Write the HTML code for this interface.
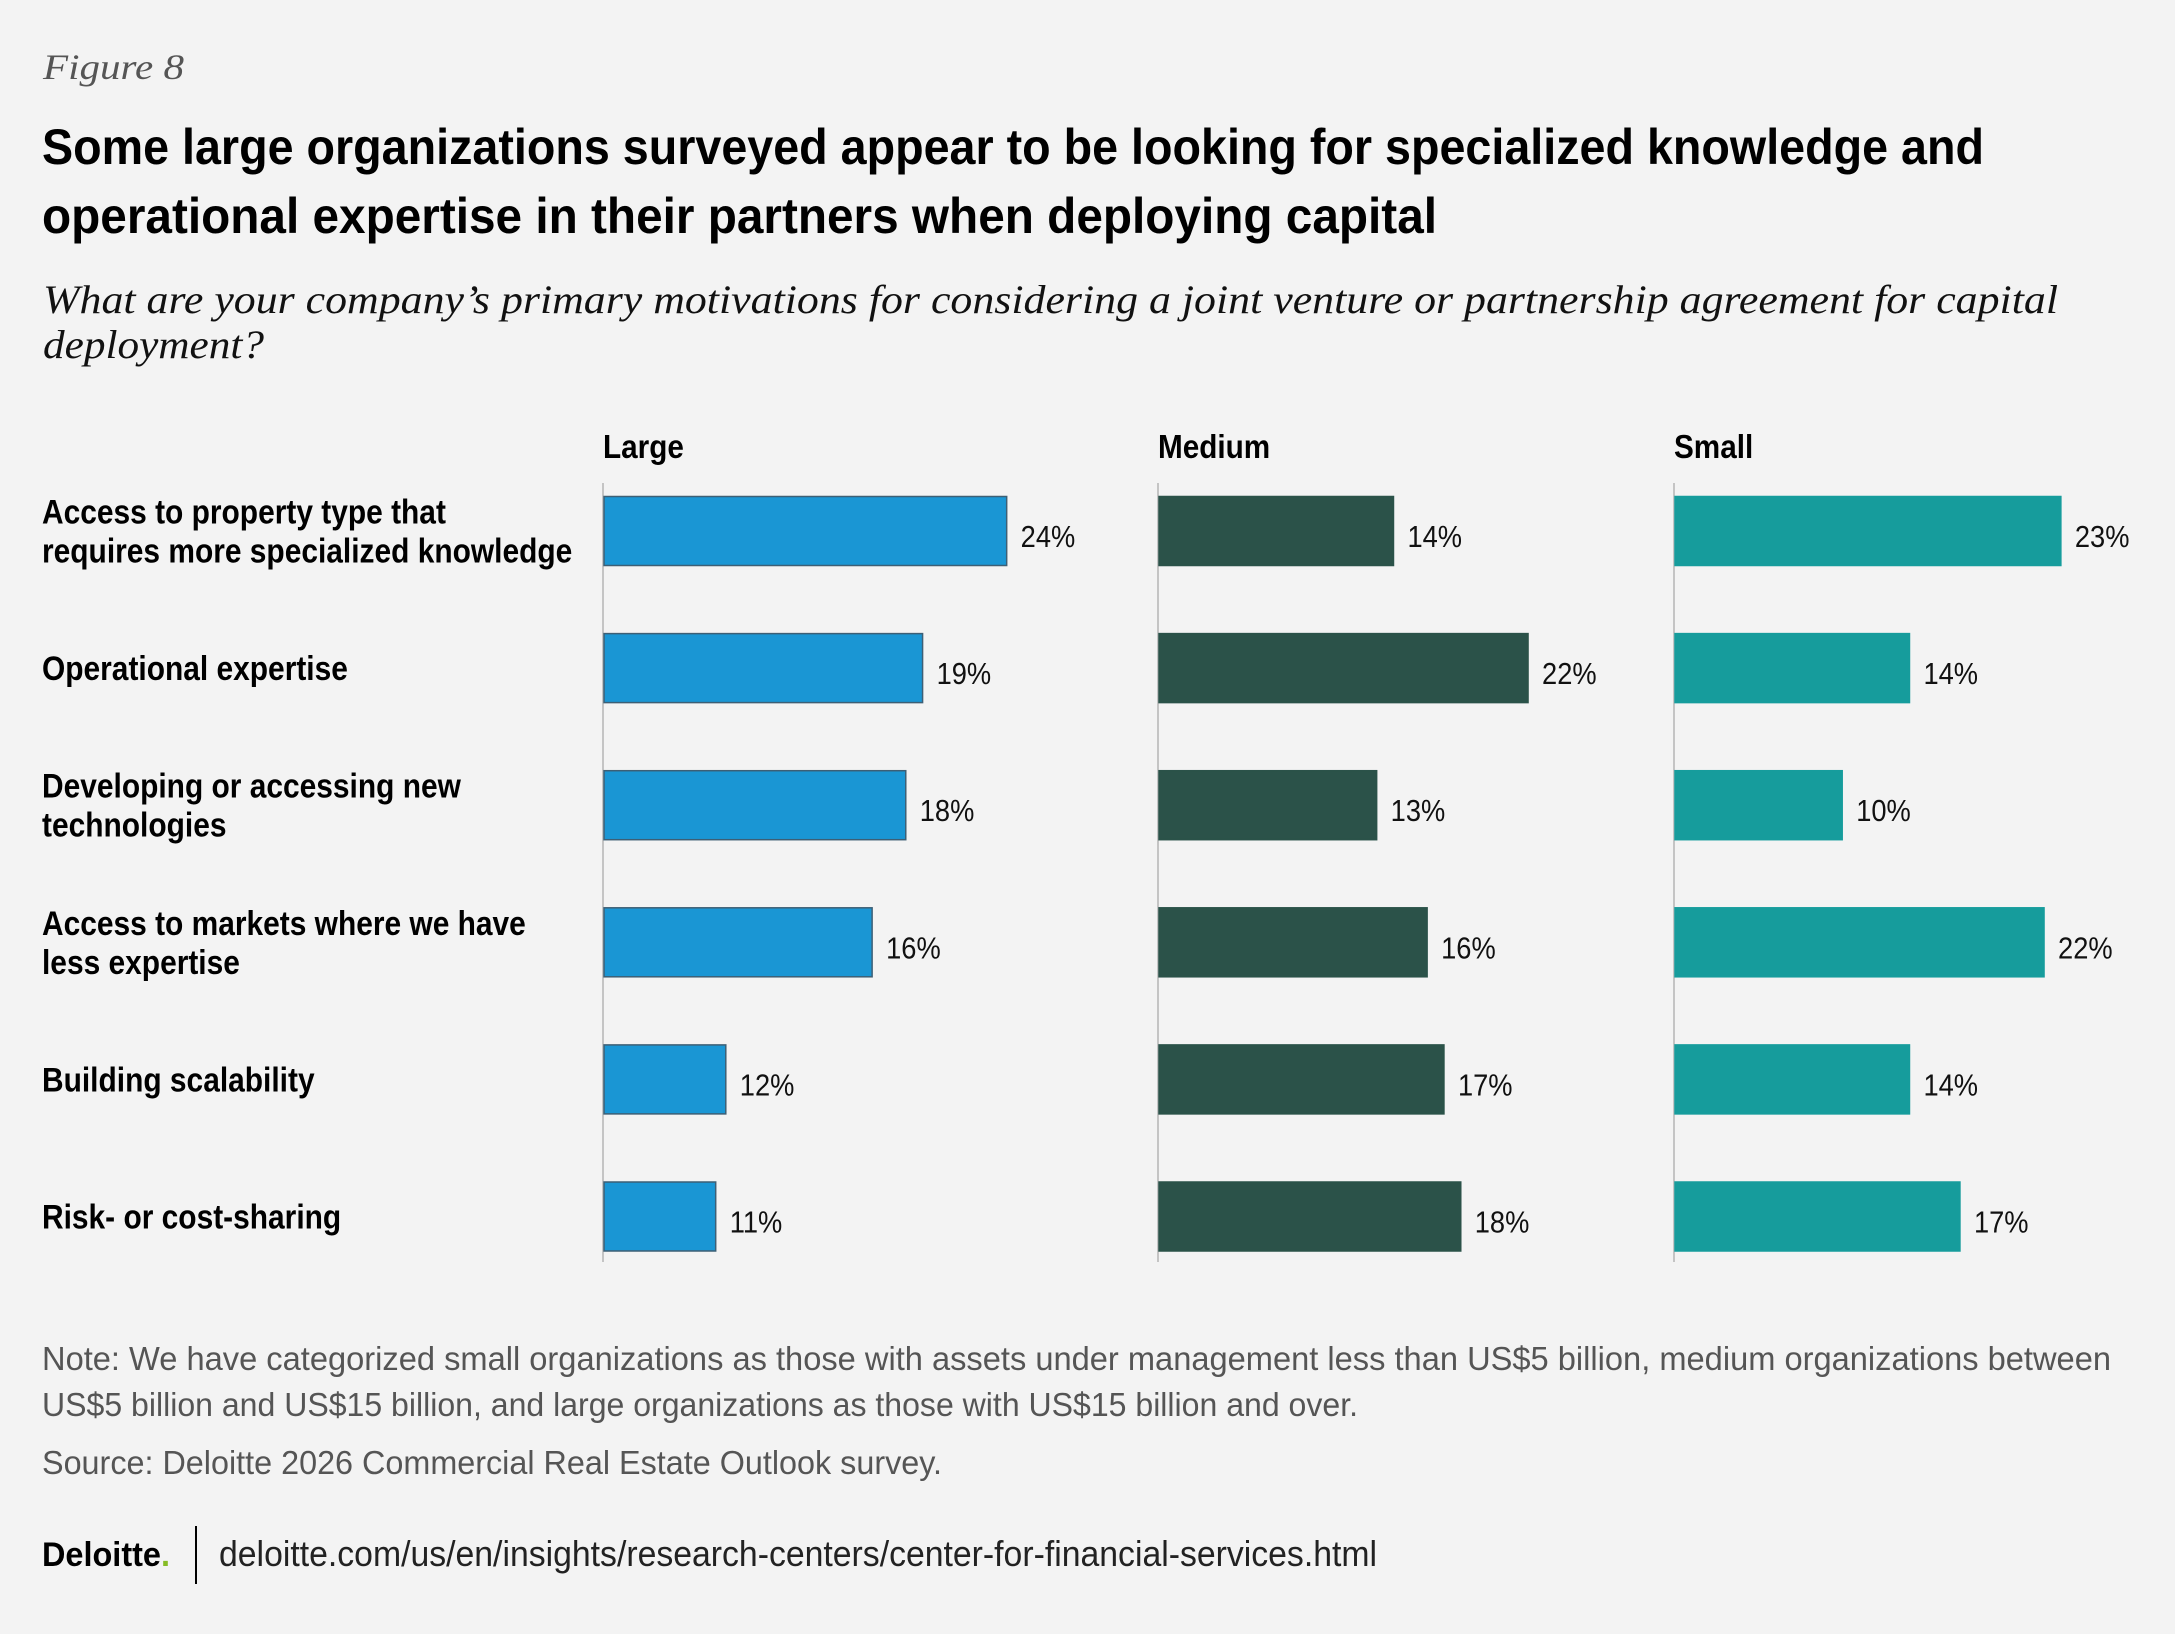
<!DOCTYPE html>
<html><head><meta charset="utf-8"><style>
html,body{margin:0;padding:0;background:#f3f3f3;}
svg{display:block;font-family:"Liberation Sans Narrow","Liberation Sans",sans-serif;}
</style></head><body>
<svg id="chart" width="2175" height="1634" viewBox="0 0 2175 1634" xmlns="http://www.w3.org/2000/svg">
<rect width="2175" height="1634" fill="#f3f3f3"/>
<text x="43" y="79" font-family="Liberation Serif, serif" font-style="italic" font-size="36" fill="#555" textLength="141" lengthAdjust="spacingAndGlyphs">Figure 8</text>
<g font-weight="bold" font-size="50" fill="#000">
<text x="42" y="164" textLength="1942" lengthAdjust="spacingAndGlyphs">Some large organizations surveyed appear to be looking  for specialized knowledge and</text>
<text x="42" y="233" textLength="1395" lengthAdjust="spacingAndGlyphs">operational expertise in their partners when deploying capital</text>
</g>
<g font-family="Liberation Serif, serif" font-style="italic" font-size="40" fill="#111">
<text x="43" y="313" textLength="2015" lengthAdjust="spacingAndGlyphs">What are your company’s primary motivations for considering a joint venture or partnership agreement for capital</text>
<text x="43" y="358" textLength="221" lengthAdjust="spacingAndGlyphs">deployment?</text>
</g>
<g id="plot"></g>
<g font-size="33" fill="#555">
<text x="42" y="1370" textLength="2069" lengthAdjust="spacingAndGlyphs">Note: We have categorized small organizations as those with assets under management less than US$5 billion, medium organizations between</text>
<text x="42" y="1416" textLength="1316" lengthAdjust="spacingAndGlyphs">US$5 billion and US$15 billion, and large organizations as those with US$15 billion and over.</text>
<text x="42" y="1474" textLength="900" lengthAdjust="spacingAndGlyphs">Source: Deloitte 2026 Commercial Real Estate Outlook survey.</text>
</g>
<text x="42" y="1566" font-size="34" font-weight="bold" fill="#000" textLength="128" lengthAdjust="spacingAndGlyphs">Deloitte<tspan fill="#86bc25">.</tspan></text>
<line x1="196" y1="1526" x2="196" y2="1584" stroke="#000" stroke-width="2"/>
<text x="219" y="1566" font-size="36" fill="#222" textLength="1158" lengthAdjust="spacingAndGlyphs">deloitte.com/us/en/insights/research-centers/center-for-financial-services.html</text>
</svg>
<script>
const categories = [["Access to property type that","requires more specialized knowledge"],["Operational expertise"],["Developing or accessing new","technologies"],["Access to markets where we have","less expertise"],["Building scalability"],["Risk- or cost-sharing"]];
const groups = ["Large","Medium","Small"];
const largeValues = [24,19,18,16,7.3,6.7];
const mediumValues = [14,22,13,16,17,18];
const smallValues = [23,14,10,22,14,17];
const largeLabels = ["24%","19%","18%","16%","12%","11%"];
const mediumLabels = ["14%","22%","13%","16%","17%","18%"];
const smallLabels = ["23%","14%","10%","22%","14%","17%"];
const seriesValues = [largeValues, mediumValues, smallValues];
const seriesLabels = [largeLabels, mediumLabels, smallLabels];
const colors = ["#1a96d4","#2b5249","#169c9c"];
const strokes = ["#3d5f75","#2b5249","#169c9c"];
const groupX = [603,1158,1674];
const pxPerPct = 16.82;
const rowTop = 496.5, rowStep = 137.1, barH = 69;
const xScale = v => v * pxPerPct;
const yScale = i => rowTop + i * rowStep;
const NS = "http://www.w3.org/2000/svg";
const plot = document.getElementById('plot');
function mk(tag, attrs, parent){ const e=document.createElementNS(NS,tag); for(const k in attrs) e.setAttribute(k,attrs[k]); (parent||plot).appendChild(e); return e; }
categories.forEach((lines,i)=>{
  const cy = yScale(i) + barH/2;
  const t = mk('text',{x:0,'font-size':34,'font-weight':'bold',fill:'#000',transform:'translate(42,0) scale(0.88,1)'});
  
  
  const n = lines.length;
  lines.forEach((ln,j)=>{
    const ts = mk('tspan',{x:0,y:(cy + 12 + (j-(n-1)/2)*39).toFixed(1)},t);
    ts.textContent = ln;
  });
});
groups.forEach((g,gi)=>{
  const x0 = groupX[gi];
  const h = mk('text',{x:0,y:458,'font-size':33,'font-weight':'bold',fill:'#000',transform:'translate('+x0+',0) scale(0.9,1)'});
  
  
  h.textContent = g;
  const ax = mk('line',{x1:x0,y1:483,x2:x0,y2:1262,stroke:'#c4c4c4','stroke-width':2});
  
  
  seriesValues[gi].forEach((v,i)=>{
    const w = xScale(v), y = yScale(i);
    const r = mk('rect',{x:x0+1,y:y,width:w-1,height:barH,fill:colors[gi],stroke:strokes[gi],'stroke-width':1.5});
    
    
    const lb = mk('text',{x:0,y:y+barH/2+16,'font-size':31,fill:'#111',transform:'translate('+(x0+w+14)+',0) scale(0.88,1)'});
    
    
    lb.textContent = seriesLabels[gi][i];
  });
});
</script>
</body></html>
